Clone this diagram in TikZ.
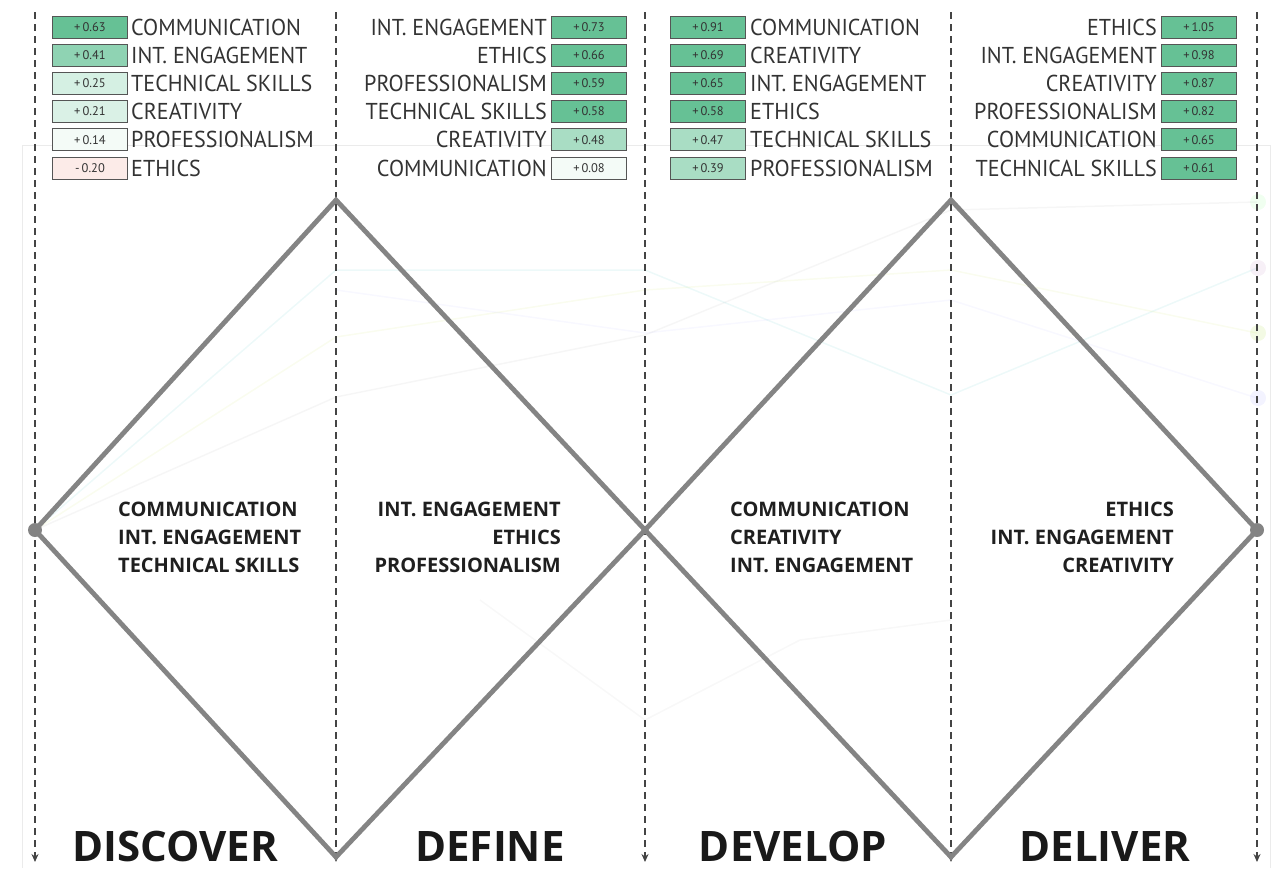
\documentclass[tikz,border=0pt]{standalone}
\usepackage{fontspec}
\setmainfont{PT Sans}
\newfontfamily\labfont[FakeStretch=0.96]{PT Sans}
\newfontfamily\boldfont{Open Sans}
\usetikzlibrary{arrows.meta}
\definecolor{gstrong}{HTML}{66C195}
\definecolor{gmid}{HTML}{8FD3B3}
\definecolor{glight}{HTML}{A9DDC4}
\definecolor{gpale}{HTML}{D5F0E3}
\definecolor{gpaleb}{HTML}{DAF1E6}
\definecolor{gwhite}{HTML}{F4FBF7}
\definecolor{pinkish}{HTML}{FCEBE8}
\definecolor{boxline}{HTML}{555555}
\definecolor{txt}{HTML}{333333}
\definecolor{diam}{HTML}{848484}
\definecolor{axisc}{HTML}{444444}
\tikzset{
  valbox/.style={draw=boxline, line width=0.9pt, minimum width=75pt, minimum height=22pt, inner sep=0pt, font=\fontsize{12.5}{12.5}\selectfont, text=txt},
  lab/.style={font=\labfont\fontsize{23}{23}\selectfont, text=txt, inner sep=0pt},
  axisline/.style={draw=axisc, line width=1.4pt, dash pattern=on 7pt off 5pt, -{Stealth[length=8pt,width=7pt]}},
  dtext/.style={font=\boldfont\bfseries\fontsize{20}{28}\selectfont, text=black!88, inner sep=0pt},
  phase/.style={font=\boldfont\bfseries\fontsize{42}{42}\selectfont, text=black!90, inner sep=0pt},
  dline/.style={draw=diam, line width=4.8pt, line join=miter},
  faint/.style={line width=1.5pt, opacity=0.07},
  fdot/.style={circle, minimum size=16pt, inner sep=0pt, opacity=0.12}
}
\begin{document}
\begin{tikzpicture}[x=1pt,y=-1pt]
\useasboundingbox (0,0) rectangle (1281,868);
% faint background frame
\draw[black!8, line width=0.8pt] (22,868) -- (22,145) -- (1270,145) -- (1270,868);
% faint background lines
\draw[faint, cyan!60!green] (35,530) -- (336,270) -- (645,270) -- (951,395) -- (1257,268);
\draw[faint, yellow!70!green] (35,530) -- (336,337) -- (645,290) -- (951,270) -- (1257,333);
\draw[faint, black!50] (35,530) -- (336,397) -- (645,335) -- (951,210) -- (1257,202);
\draw[faint, blue!40] (336,290) -- (645,333) -- (951,300) -- (1257,398);
\draw[faint, black!40] (480,600) -- (645,720) -- (800,640) -- (951,620);
% faint dots on the right axis
\node[fdot, fill=green!50] (d1) at (1258,202) {};
\node[fdot, fill=violet!50] (d2) at (1258,268) {};
\node[fdot, fill=yellow!60!green] (d3) at (1258,333) {};
\node[fdot, fill=blue!40] (d4) at (1258,398) {};
% axes
\foreach \n/\x in {a0/35, a1/336, a2/645, a3/951, a4/1257}{
  \coordinate (\n top) at (\x,12);
  \coordinate (\n bot) at (\x,862);
  \draw[axisline] (\n top) -- (\n bot);
}
% diamonds
\coordinate (L) at (35,530);
\coordinate (T1) at (336,200);
\coordinate (B1) at (336,857);
\coordinate (M) at (645,530);
\coordinate (T2) at (951,200);
\coordinate (B2) at (951,857);
\coordinate (R) at (1257,530);
\draw[dline] (L) -- (T1) -- (M) -- (B1) -- cycle;
\draw[dline] (M) -- (T2) -- (R) -- (B2) -- cycle;
\node[circle, fill=diam, minimum size=14pt, inner sep=0pt] (dotL) at (L) {};
\node[circle, fill=diam, minimum size=14pt, inner sep=0pt] (dotR) at (R) {};
% diamond texts
\node[dtext, anchor=north west, align=left] (t1) at (118,501.5) {COMMUNICATION\\INT. ENGAGEMENT\\TECHNICAL SKILLS};
\node[dtext, anchor=north east, align=right] (t2) at (561,501.5) {INT. ENGAGEMENT\\ETHICS\\PROFESSIONALISM};
\node[dtext, anchor=north west, align=left] (t3) at (730,501.5) {COMMUNICATION\\CREATIVITY\\INT. ENGAGEMENT};
\node[dtext, anchor=north east, align=right] (t4) at (1174,501.5) {ETHICS\\INT. ENGAGEMENT\\CREATIVITY};
% phase labels
\node[phase, anchor=base] (p1) at (175,861) {DISCOVER};
\node[phase, anchor=base] (p2) at (490,861) {DEFINE};
\node[phase, anchor=base] (p3) at (793,861) {DEVELOP};
\node[phase, anchor=base] (p4) at (1105,861) {DELIVER};
% table 1 (discover)
\foreach \i/\v/\c/\t in {0/{+\,0.63}/gstrong/COMMUNICATION, 1/{+\,0.41}/gmid/INT. ENGAGEMENT, 2/{+\,0.25}/gpale/TECHNICAL SKILLS, 3/{+\,0.21}/gpaleb/CREATIVITY, 4/{+\,0.14}/gwhite/PROFESSIONALISM, 5/{-\,0.20}/pinkish/ETHICS}{
  \node[valbox, fill=\c] (ba\i) at (90,27+28.2*\i) {\v};
  \node[lab, anchor=base west] (la\i) at (131,35+28.2*\i) {\t};
}
% table 2 (define)
\foreach \i/\v/\c/\t in {0/{+\,0.73}/gstrong/INT. ENGAGEMENT, 1/{+\,0.66}/gstrong/ETHICS, 2/{+\,0.59}/gstrong/PROFESSIONALISM, 3/{+\,0.58}/gstrong/TECHNICAL SKILLS, 4/{+\,0.48}/glight/CREATIVITY, 5/{+\,0.08}/gwhite/COMMUNICATION}{
  \node[valbox, fill=\c] (bb\i) at (589,27+28.2*\i) {\v};
  \node[lab, anchor=base east] (lb\i) at (547,35+28.2*\i) {\t};
}
% table 3 (develop)
\foreach \i/\v/\c/\t in {0/{+\,0.91}/gstrong/COMMUNICATION, 1/{+\,0.69}/gstrong/CREATIVITY, 2/{+\,0.65}/gstrong/INT. ENGAGEMENT, 3/{+\,0.58}/gstrong/ETHICS, 4/{+\,0.47}/glight/TECHNICAL SKILLS, 5/{+\,0.39}/glight/PROFESSIONALISM}{
  \node[valbox, fill=\c] (bc\i) at (708,27+28.2*\i) {\v};
  \node[lab, anchor=base west] (lc\i) at (750,35+28.2*\i) {\t};
}
% table 4 (deliver)
\foreach \i/\v/\c/\t in {0/{+\,1.05}/gstrong/ETHICS, 1/{+\,0.98}/gstrong/INT. ENGAGEMENT, 2/{+\,0.87}/gstrong/CREATIVITY, 3/{+\,0.82}/gstrong/PROFESSIONALISM, 4/{+\,0.65}/gstrong/COMMUNICATION, 5/{+\,0.61}/gstrong/TECHNICAL SKILLS}{
  \node[valbox, fill=\c] (bd\i) at (1199,27+28.2*\i) {\v};
  \node[lab, anchor=base east] (ld\i) at (1157,35+28.2*\i) {\t};
}
\end{tikzpicture}
\end{document}
